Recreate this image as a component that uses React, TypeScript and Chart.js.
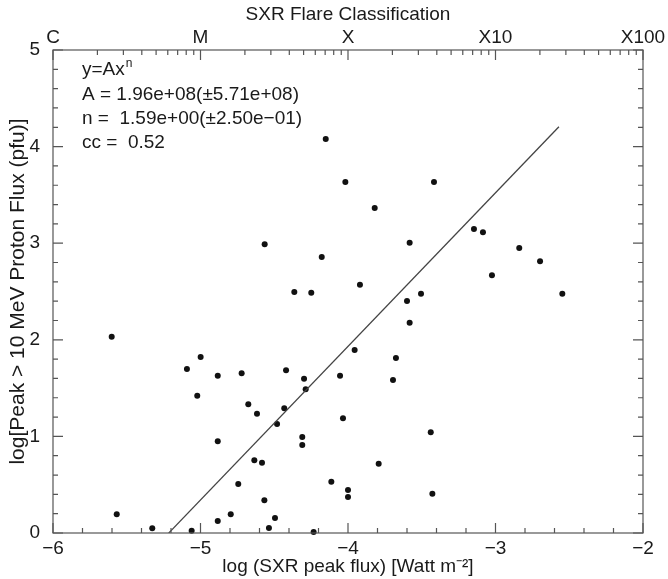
import React, { useEffect, useRef } from 'react';
import { Chart, registerables } from 'chart.js';

Chart.register(...registerables);

// ---- data ----
const sxrLogFlux = [
  -5.602, -5.568, -5.327, -5.060, -5.092, -4.999, -5.022, -4.883, -4.883, -4.883,
  -4.795, -4.721, -4.744, -4.676, -4.617, -4.635, -4.583, -4.567, -4.536, -4.495,
  -4.481, -4.420, -4.432, -4.364, -4.249, -4.298, -4.287, -4.310, -4.310, -4.233,
  -4.113, -4.054, -4.034, -3.439, -3.792, -4.000, -4.000, -3.428, -4.151, -4.018,
  -3.417, -3.819, -3.146, -3.085, -3.582, -2.839, -2.698, -3.024, -2.547, -4.178,
  -3.919, -3.505, -3.600, -3.582, -3.955, -3.675, -3.695, -4.565,
];
const protonLogFlux = [
  2.032, 0.194, 0.049, 0.024, 1.698, 1.822, 1.421, 1.628, 0.949, 0.124,
  0.194, 1.653, 0.507, 1.332, 1.235, 0.753, 0.728, 0.339, 0.052, 0.155,
  1.128, 1.684, 1.291, 2.495, 2.488, 1.597, 1.488, 0.994, 0.911, 0.010,
  0.531, 1.628, 1.187, 1.042, 0.718, 0.445, 0.373, 0.407, 4.079, 3.634,
  3.634, 3.364, 3.147, 3.113, 3.005, 2.950, 2.813, 2.668, 2.477, 2.857,
  2.570, 2.477, 2.402, 2.177, 1.894, 1.812, 1.584, 2.989,
];

const xTickValues = [-6, -5, -4, -3, -2];
const yTickValues = [0, 1, 2, 3, 4, 5];
const flareClassLabels = ['C', 'M', 'X', 'X10', 'X100'];

const fitA = 1.96e8;
const fitN = 1.59;
const fitXRange = [-5.216, -2.57];

const fitEquationBase = 'y=Ax';
const fitEquationSup = 'n';
const annotationLines = [
  'A = 1.96e+08(\u00b15.71e+08)',
  'n =  1.59e+00(\u00b12.50e\u221201)',
  'cc =  0.52',
];

const xTitle = 'log (SXR peak flux) [Watt m\u207b\u00b2]';
const yTitle = 'log[Peak > 10 MeV Proton Flux (pfu)]';
const topTitle = 'SXR Flare Classification';

const FONT_FAMILY = '"Liberation Sans", Arial, Helvetica, sans-serif';
const TEXT_COLOR = '#1a1a1a';
const AXIS_COLOR = '#555555';

const fmtNum = (v: number) => (v < 0 ? '\u2212' + Math.abs(v) : String(v));

const framePlugin = {
  id: 'framePlugin',
  afterDraw(chart: any) {
    const { ctx, chartArea } = chart;
    const { left, right, top, bottom } = chartArea;
    const xs = chart.scales.x;
    const ys = chart.scales.y;
    ctx.save();
    ctx.strokeStyle = AXIS_COLOR;
    ctx.lineWidth = 1.2;
    ctx.strokeRect(left, top, right - left, bottom - top);

    const MAJ = 10;
    const MIN = 5;
    ctx.beginPath();
    // bottom ticks every 0.2
    for (let i = 0; i <= 20; i++) {
      const v = xs.min + i * 0.2;
      const px = xs.getPixelForValue(v);
      const len = i % 5 === 0 ? MAJ : MIN;
      ctx.moveTo(px, bottom);
      ctx.lineTo(px, bottom - len);
    }
    // top ticks: log minor ticks per decade
    for (let d = xs.min; d <= xs.max; d++) {
      const px = xs.getPixelForValue(d);
      ctx.moveTo(px, top);
      ctx.lineTo(px, top + MAJ);
      if (d < xs.max) {
        for (let k = 2; k <= 9; k++) {
          const pk = xs.getPixelForValue(d + Math.log10(k));
          ctx.moveTo(pk, top);
          ctx.lineTo(pk, top + MIN);
        }
      }
    }
    // left/right ticks every 0.2
    for (let i = 0; i <= 25; i++) {
      const v = ys.min + i * 0.2;
      const py = ys.getPixelForValue(v);
      const len = i % 5 === 0 ? MAJ : MIN;
      ctx.moveTo(left, py);
      ctx.lineTo(left + len, py);
      ctx.moveTo(right, py);
      ctx.lineTo(right - len, py);
    }
    ctx.stroke();

    // annotation text
    ctx.fillStyle = TEXT_COLOR;
    ctx.textBaseline = 'middle';
    ctx.textAlign = 'left';
    const tx = left + 29;
    let ty = top + 20;
    ctx.font = `19px ${FONT_FAMILY}`;
    ctx.fillText(fitEquationBase, tx, ty);
    const w = ctx.measureText(fitEquationBase).width;
    ctx.font = `12px ${FONT_FAMILY}`;
    ctx.fillText(fitEquationSup, tx + w + 1, ty - 6);
    ctx.font = `19px ${FONT_FAMILY}`;
    for (const line of annotationLines) {
      ty += 24.3;
      ctx.fillText(line, tx, ty);
    }
    ctx.restore();
  },
};

export default function App() {
  const canvasRef = useRef<HTMLCanvasElement | null>(null);

  useEffect(() => {
    document.body.style.margin = '0';
    const canvas = canvasRef.current;
    if (!canvas) return;

    const points = sxrLogFlux.map((x, i) => ({ x, y: protonLogFlux[i] }));
    const logA = Math.log10(fitA);
    const fitLine = fitXRange.map((x) => ({ x, y: logA + fitN * x }));

    const font = { family: FONT_FAMILY, size: 19 };

    const chart = new Chart(canvas, {
      type: 'scatter',
      data: {
        datasets: [
          {
            label: 'fit',
            type: 'line',
            data: fitLine,
            borderColor: '#444444',
            borderWidth: 1.3,
            pointRadius: 0,
            fill: false,
            xAxisID: 'x',
            yAxisID: 'y',
          } as any,
          {
            label: 'events',
            data: points,
            backgroundColor: '#111111',
            borderWidth: 0,
            pointRadius: 3,
            clip: false,
            xAxisID: 'x',
            yAxisID: 'y',
          } as any,
        ],
      },
      options: {
        responsive: false,
        maintainAspectRatio: false,
        animation: false,
        layout: { padding: { left: 0, right: 25, top: 0, bottom: 0 } },
        plugins: {
          legend: { display: false },
          tooltip: { enabled: false },
        },
        scales: {
          x: {
            type: 'linear',
            position: 'bottom',
            min: -6,
            max: -2,
            afterBuildTicks: (s: any) => {
              s.ticks = xTickValues.map((v) => ({ value: v }));
            },
            afterFit: (s: any) => {
              s.height = 46;
            },
            grid: { display: false },
            border: { display: false },
            ticks: {
              callback: (v: any) => fmtNum(Number(v)),
              font,
              color: TEXT_COLOR,
              padding: -4,
              maxRotation: 0,
              autoSkip: false,
            },
            title: {
              display: true,
              text: xTitle,
              font,
              color: TEXT_COLOR,
              padding: { top: 0, bottom: 1 },
            },
          },
          x2: {
            type: 'linear',
            position: 'top',
            min: -6,
            max: -2,
            afterBuildTicks: (s: any) => {
              s.ticks = xTickValues.map((v) => ({ value: v }));
            },
            afterFit: (s: any) => {
              s.height = 50;
            },
            grid: { display: false },
            border: { display: false },
            ticks: {
              callback: (v: any) => flareClassLabels[xTickValues.indexOf(Number(v))],
              font,
              color: TEXT_COLOR,
              padding: -7,
              maxRotation: 0,
              autoSkip: false,
            },
            title: {
              display: true,
              text: topTitle,
              font,
              color: TEXT_COLOR,
              padding: { top: 3, bottom: 0 },
            },
          },
          y: {
            type: 'linear',
            position: 'left',
            min: 0,
            max: 5,
            afterBuildTicks: (s: any) => {
              s.ticks = yTickValues.map((v) => ({ value: v }));
            },
            afterFit: (s: any) => {
              s.width = 53;
            },
            grid: { display: false },
            border: { display: false },
            ticks: {
              callback: (v: any) => fmtNum(Number(v)),
              font,
              color: TEXT_COLOR,
              padding: 5,
              autoSkip: false,
            },
            title: {
              display: true,
              text: yTitle,
              font: { family: FONT_FAMILY, size: 21 },
              color: TEXT_COLOR,
              padding: { top: 6, bottom: 0 },
            },
          },
        },
      } as any,
      plugins: [framePlugin],
    });

    return () => chart.destroy();
  }, []);

  return (
    <div style={{ width: 668, height: 579 }}>
      <canvas ref={canvasRef} width={668} height={579} style={{ display: 'block' }} />
    </div>
  );
}
